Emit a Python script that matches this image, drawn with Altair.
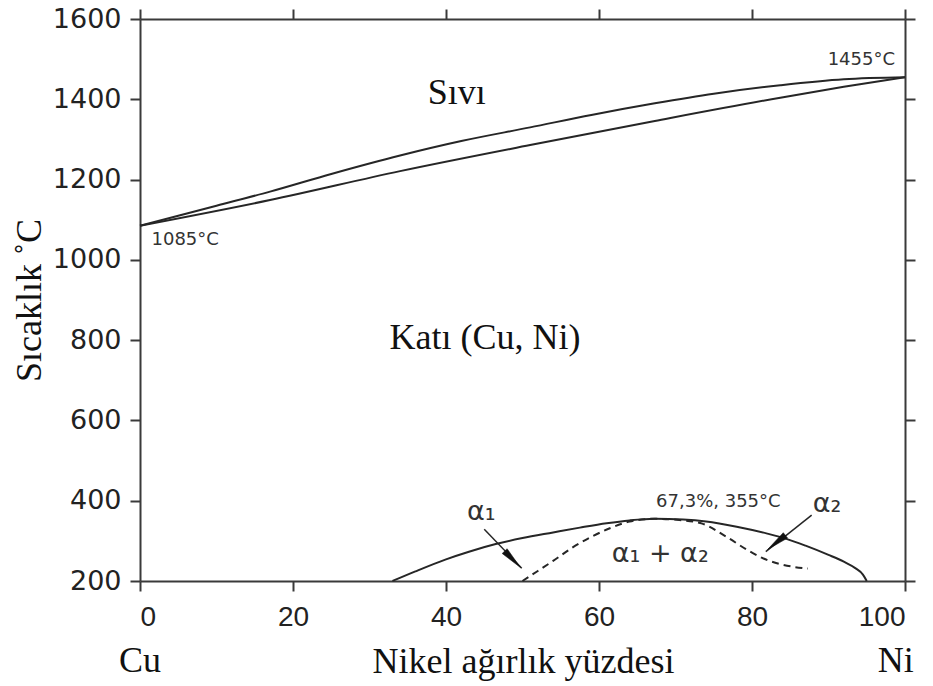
import math
import altair as alt
import pandas as pd

# ---------------- data ----------------
liq_x = [0, 10, 17, 25, 34, 42, 51, 59, 67.3, 75, 83.7, 92, 100]
liq_y = [1085, 1135, 1170, 1214, 1260, 1296, 1330, 1361, 1390, 1414, 1435, 1450, 1455]

sol_x = [0, 17, 34, 51, 67.3, 83.7, 92, 100]
sol_y = [1085, 1149, 1221, 1286, 1346, 1404, 1431, 1455]

gap_x = [33, 36, 40, 43, 46.5, 50, 54, 57.5, 61, 64, 67.3, 71, 74, 78, 82, 84.5, 87, 90, 92, 93.5, 94.5, 95]
gap_y = [200, 224, 254, 273, 292, 307, 321, 333, 344, 351, 355, 353, 348, 335, 318, 305, 288, 265, 248, 232, 216, 200]

spin_x = [50, 52, 54, 56.5, 59, 61.5, 64, 67.3, 70.5, 73.5, 76.5, 79.5, 81.5, 83.5, 85.5, 87.3]
spin_y = [200, 225, 250, 283, 310, 332, 348, 355, 352, 343, 312, 276, 256, 243, 235, 231]

x_ticks = [0, 20, 40, 60, 80, 100]
y_ticks = [200, 400, 600, 800, 1000, 1200, 1400, 1600]

arrow_id = ["a1", "a2"]
arrow_x0 = [45.0, 87.8]
arrow_y0 = [329, 364]
arrow_x1 = [49.9, 81.8]
arrow_y1 = [232, 273]
head_x = [48.7, 83.2]
head_y = [254, 296]

serif_text = ["Sıvı", "Katı (Cu, Ni)"]
serif_x = [41.4, 45.1]
serif_y = [1416, 805]

small_text = ["1085°C", "1455°C", "67,3%, 355°C"]
small_x = [1.5, 98.7, 75.6]
small_y = [1049, 1498, 397]
small_align = ["left", "right", "center"]

alpha_text = ["α₁", "α₂", "α₁ + α₂"]
alpha_x = [44.6, 89.8, 68.0]
alpha_y = [372, 392, 268]

end_text = ["Cu", "Ni"]
end_x = [0, 98.8]

# ---------------- layout ----------------
W, H = 765, 562
kx = W / 100.0
ky = H / 1400.0

xs = alt.Scale(domain=[0, 100], nice=False, zero=False)
ys = alt.Scale(domain=[200, 1600], nice=False, zero=False)

INK = "#262626"
AX = "#3a3a3a"
SERIF = 36

axis_common = dict(
    domainColor=AX, domainWidth=2, tickColor=AX, tickWidth=2, tickSize=10,
    grid=False,
)

x_bottom = alt.Axis(
    values=x_ticks, orient="bottom", format="d", labelFont="Liberation Sans", labelFontSize=28,
    labelColor="#222222", labelPadding=12, title="Nikel ağırlık yüzdesi",
    titleFont="Liberation Serif", titleFontSize=SERIF, titleFontWeight="normal",
    titleColor="#111111", titleX=383, titleY=91, titleAlign="center",
    titleBaseline="alphabetic", **axis_common,
)
y_left = alt.Axis(
    values=y_ticks, orient="left", format="d", labelFont="DejaVu Sans", labelFontSize=27,
    labelColor="#222222", labelPadding=9, title="Sıcaklık ˚C",
    titleFont="Liberation Serif", titleFontSize=SERIF, titleFontWeight="normal",
    titleColor="#111111", titleAngle=270, titleX=-100, titleY=281,
    titleAlign="center", titleBaseline="alphabetic", **axis_common,
)
x_top = alt.Axis(values=x_ticks, orient="top", labels=False, title=None, **axis_common)
y_right = alt.Axis(values=y_ticks, orient="right", labels=False, title=None, **axis_common)


def df(xv, yv):
    return pd.DataFrame({"x": xv, "y": yv})


liq = alt.Chart(df(liq_x, liq_y)).mark_line(
    color=INK, strokeWidth=2, interpolate="monotone"
).encode(
    x=alt.X("x:Q", scale=xs, axis=x_bottom),
    y=alt.Y("y:Q", scale=ys, axis=y_left),
)

frame = alt.Chart(df(liq_x, liq_y)).mark_line(opacity=0).encode(
    x=alt.X("x:Q", scale=xs, axis=x_top),
    y=alt.Y("y:Q", scale=ys, axis=y_right),
)


def plain_line(xv, yv, **kw):
    return alt.Chart(df(xv, yv)).mark_line(
        color=INK, strokeWidth=2, interpolate="monotone", **kw
    ).encode(
        x=alt.X("x:Q", scale=xs, axis=None),
        y=alt.Y("y:Q", scale=ys, axis=None),
        order="x:Q",
    )


sol = plain_line(sol_x, sol_y)
gap = plain_line(gap_x, gap_y)
spin = plain_line(spin_x, spin_y, strokeDash=[7, 5])

angles = []
for i in range(len(arrow_id)):
    sx = (arrow_x1[i] - arrow_x0[i]) * kx
    sdown = (arrow_y0[i] - arrow_y1[i]) * ky
    angles.append((math.degrees(math.atan2(sx, -sdown)) + 360) % 360)

arrows_df = pd.DataFrame({
    "id": arrow_id, "x0": arrow_x0, "y0": arrow_y0, "x1": arrow_x1, "y1": arrow_y1,
    "hx": head_x, "hy": head_y, "ang": angles,
})

shafts = alt.Chart(arrows_df).mark_rule(color=INK, strokeWidth=1.5).encode(
    x=alt.X("x0:Q", scale=xs, axis=None), y=alt.Y("y0:Q", scale=ys, axis=None),
    x2="x1:Q", y2="y1:Q",
)
heads = alt.Chart(arrows_df).mark_point(
    shape="M0,-1L0.3,1L-0.3,1Z", filled=True, fill="#111111", stroke="#111111",
    strokeWidth=0.5, opacity=1, size=520,
).encode(
    x=alt.X("hx:Q", scale=xs, axis=None), y=alt.Y("hy:Q", scale=ys, axis=None),
    angle=alt.Angle("ang:Q", scale=None),
)

serif_df = pd.DataFrame({"t": serif_text, "x": serif_x, "y": serif_y})
serif_lbl = alt.Chart(serif_df).mark_text(
    font="Liberation Serif", fontSize=SERIF, color="#111111", align="center", baseline="middle"
).encode(
    x=alt.X("x:Q", scale=xs, axis=None), y=alt.Y("y:Q", scale=ys, axis=None), text="t:N",
)

small_layers = []
for t, x, y, a in zip(small_text, small_x, small_y, small_align):
    small_layers.append(
        alt.Chart(pd.DataFrame({"t": [t], "x": [x], "y": [y]})).mark_text(
            font="DejaVu Sans", fontSize=18, color="#333333", align=a, baseline="middle"
        ).encode(
            x=alt.X("x:Q", scale=xs, axis=None), y=alt.Y("y:Q", scale=ys, axis=None), text="t:N",
        )
    )

alpha_df = pd.DataFrame({"t": alpha_text, "x": alpha_x, "y": alpha_y})
alpha_lbl = alt.Chart(alpha_df).mark_text(
    font="DejaVu Sans", fontSize=27, color="#333333", align="center", baseline="middle"
).encode(
    x=alt.X("x:Q", scale=xs, axis=None), y=alt.Y("y:Q", scale=ys, axis=None), text="t:N",
)

end_df = pd.DataFrame({"t": end_text, "x": end_x})
end_lbl = alt.Chart(end_df).mark_text(
    font="Liberation Serif", fontSize=SERIF, color="#111111", align="center",
    baseline="alphabetic",
).encode(
    x=alt.X("x:Q", scale=xs, axis=None), y=alt.value(H + 91), text="t:N",
)

chart = alt.layer(
    liq, frame, sol, gap, spin, shafts, heads, serif_lbl, *small_layers, alpha_lbl, end_lbl
).resolve_axis(
    x="independent", y="independent"
).properties(
    width=W, height=H,
    autosize=alt.AutoSizeParams(type="none"),
    padding={"left": 140, "top": 19, "right": 28, "bottom": 105},
    background="white",
).configure_view(stroke=None)

chart.save("out.html", embed_options={"renderer": "svg", "actions": False})
